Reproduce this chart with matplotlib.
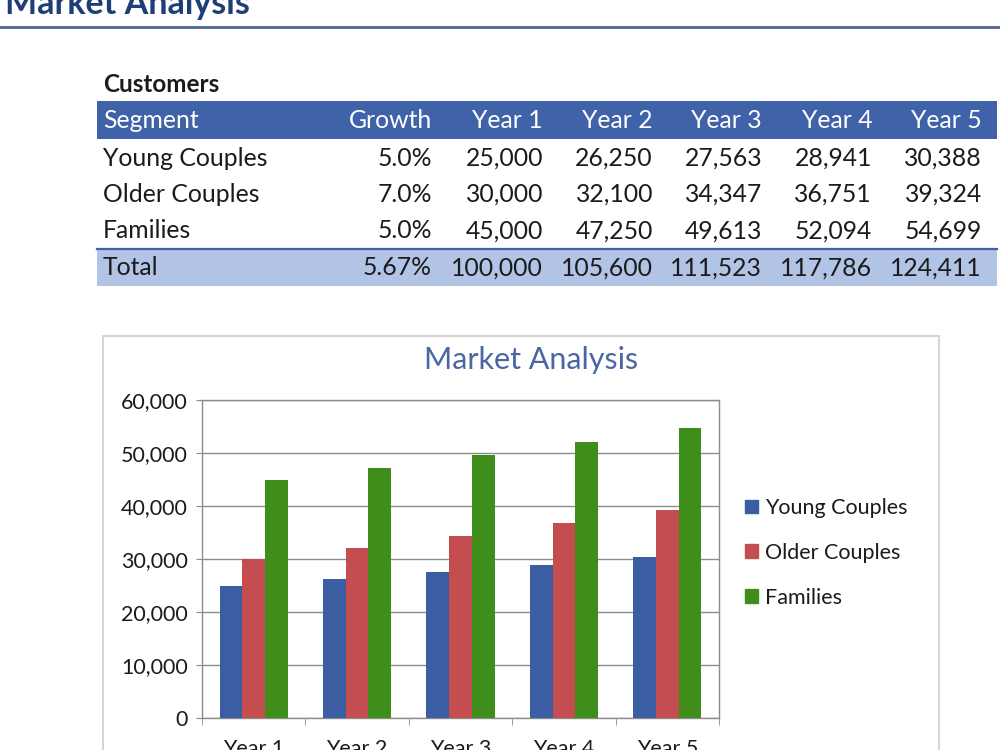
import matplotlib.pyplot as plt
from matplotlib.patches import Rectangle, Patch
from matplotlib.lines import Line2D

plt.rcParams['font.family'] = ['Lato', 'DejaVu Sans']

W, H = 1000, 750

segments = ["Young Couples", "Older Couples", "Families"]
growth = ["5.0%", "7.0%", "5.0%"]
years = ["Year 1", "Year 2", "Year 3", "Year 4", "Year 5"]
young = [25000, 26250, 27563, 28941, 30388]
older = [30000, 32100, 34347, 36751, 39324]
families = [45000, 47250, 49613, 52094, 54699]
total_growth = "5.67%"
totals = [100000, 105600, 111523, 117786, 124411]

blue = "#3B5EA2"
red = "#C44D4F"
green = "#3F8E1B"
txt = "#1b1b1b"


def fx(x):
    return x / W


def fy(y):
    return 1 - y / H


fig = plt.figure(figsize=(10, 7.5), dpi=100)

# page heading (cut off at the top)
fig.text(fx(5), fy(14), "Market Analysis", fontsize=24.5, fontweight="bold",
         color="#1F3E78", ha="left", va="baseline")
fig.add_artist(Line2D([0, 1], [fy(27), fy(27)], color="#51688A", lw=2))

# table
fig.text(fx(103), fy(85), "Customers", fontsize=17.5, fontweight="bold",
         color=txt, ha="left", va="center")
fig.add_artist(Rectangle((fx(97), fy(139)), fx(900), 38 / H, color="#3F62A9", lw=0))
fig.add_artist(Rectangle((fx(97), fy(286)), fx(900), 37 / H, color="#B2C4E6", lw=0))
fig.add_artist(Line2D([fx(97), fx(997)], [fy(249), fy(249)], color="#3F62A9", lw=1.6))

col_right = [432, 543, 653, 762, 872, 982]
row_y = [158, 194, 231]
fs = 17.8

fig.text(fx(103), fy(121), "Segment", fontsize=fs, color="white", ha="left", va="center")
for x, lab in zip(col_right, ["Growth"] + years):
    fig.text(fx(x), fy(121), lab, fontsize=fs, color="white", ha="right", va="center")

for y, seg, g, vals in zip(row_y, segments, growth, [young, older, families]):
    fig.text(fx(103), fy(y), seg, fontsize=fs, color=txt, ha="left", va="center")
    fig.text(fx(col_right[0]), fy(y), g, fontsize=fs, color=txt, ha="right", va="center")
    for x, v in zip(col_right[1:], vals):
        fig.text(fx(x), fy(y), f"{v:,}", fontsize=fs, color=txt, ha="right", va="center")

fig.text(fx(103), fy(268), "Total", fontsize=fs, color=txt, ha="left", va="center")
fig.text(fx(col_right[0]), fy(268), total_growth, fontsize=fs, color=txt, ha="right", va="center")
for x, v in zip(col_right[1:], totals):
    fig.text(fx(x), fy(268), f"{v:,}", fontsize=fs, color=txt, ha="right", va="center")

# chart frame
fig.add_artist(Rectangle((fx(103), fy(770)), fx(836), 434 / H, fill=False,
                         edgecolor="#D6D6D6", lw=1.5))
fig.text(fx(531), fy(360), "Market Analysis", fontsize=22, color="#4A67A3",
         ha="center", va="center")

ax = fig.add_axes([fx(202), fy(718), fx(517), 318 / H])
xs = range(len(years))
bw = 0.22
ax.bar([i - bw for i in xs], young, bw, color=blue, zorder=3, label="Young Couples")
ax.bar(list(xs), older, bw, color=red, zorder=3, label="Older Couples")
ax.bar([i + bw for i in xs], families, bw, color=green, zorder=3, label="Families")

ax.set_xlim(-0.5, len(years) - 0.5)
ax.set_ylim(0, 60000)
ax.set_yticks(range(0, 60001, 10000))
ax.set_yticklabels([f"{v:,}" for v in range(0, 60001, 10000)])
ax.yaxis.grid(True, color="#8C8C8C", lw=1, zorder=0)
for s in ax.spines.values():
    s.set_color("#8C8C8C")
    s.set_linewidth(1)
ax.tick_params(axis="y", length=4, color="#8C8C8C", labelsize=15.5, labelcolor=txt, pad=6)
ax.set_xticks(list(xs))
ax.set_xticklabels(years)
ax.tick_params(axis="x", which="major", length=0, labelsize=15.5, labelcolor=txt, pad=15)
ax.set_xticks([i - 0.5 for i in range(len(years) + 1)], minor=True)
ax.tick_params(axis="x", which="minor", length=5, color="#8C8C8C")

handles = [Patch(color=blue), Patch(color=red), Patch(color=green)]
fig.legend(handles, segments, loc="upper left", bbox_to_anchor=(fx(745), fy(498)),
           frameon=False, fontsize=15.5, handlelength=0.6, handleheight=0.6,
           handletextpad=0.35, labelspacing=1.15, borderpad=0, borderaxespad=0,
           labelcolor=txt)

fig.savefig("out.png", dpi=100)
